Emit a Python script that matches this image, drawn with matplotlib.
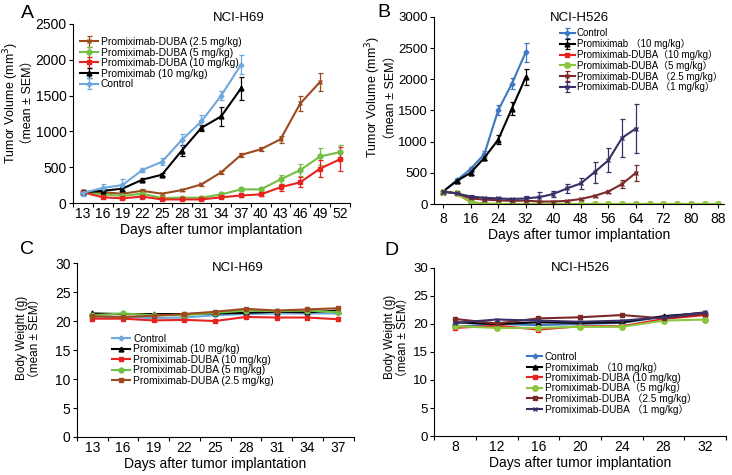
import numpy as np
import matplotlib
matplotlib.use('Agg')
from matplotlib import pyplot as plt

plt.rcParams['font.family'] = ['Liberation Sans', 'Noto Sans CJK SC', 'DejaVu Sans']
plt.rcParams['font.size'] = 10

# Panel A - NCI-H69 tumor volume
days_a = [13, 16, 19, 22, 25, 28, 31, 34, 37, 40, 43, 46, 49, 52]
a_ctrl = [140, 210, 250, 460, 575, 880, 1140, 1500, 1930]
a_ctrl_err = [40, 50, 90, 25, 50, 80, 90, 60, 130]
a_mab = [150, 170, 200, 325, 395, 730, 1050, 1210, 1600]
a_mab_err = [30, 30, 30, 20, 20, 80, 40, 130, 160]
a_d25 = [150, 150, 130, 170, 130, 180, 260, 430, 670, 750, 890, 1390, 1690]
a_d25_err = [30, 20, 20, 20, 15, 15, 20, 20, 30, 30, 50, 100, 130]
a_d5 = [150, 120, 100, 130, 70, 75, 75, 120, 190, 190, 330, 460, 650, 710]
a_d5_err = [30, 20, 20, 20, 15, 15, 15, 20, 20, 20, 60, 80, 120, 100]
a_d10 = [150, 80, 65, 90, 50, 50, 50, 80, 105, 120, 220, 290, 480, 610]
a_d10_err = [30, 15, 15, 15, 10, 10, 10, 15, 15, 20, 50, 70, 120, 170]

# Panel B - NCI-H526 tumor volume
days_b = [8, 12, 16, 20, 24, 28, 32, 36, 40, 44, 48, 52, 56, 60, 64,
          68, 72, 76, 80, 84, 88]
b_ctrl = [200, 380, 560, 800, 1500, 1930, 2430]
b_ctrl_err = [20, 30, 40, 50, 80, 90, 150]
b_mab = [200, 370, 500, 740, 1030, 1530, 2030]
b_mab_err = [20, 30, 30, 40, 70, 100, 130]
b_d10 = [200, 170, 30, 5, 0, 0, 0, 0, 0, 0, 0, 0, 0, 0, 0, 0, 0, 0, 0, 0, 0]
b_d5 = [200, 170, 30, 5, 0, 0, 0, 0, 0, 0, 0, 0, 0, 0, 0, 0, 0, 0, 0, 0, 0]
b_d25 = [200, 170, 90, 70, 60, 50, 55, 40, 40, 50, 80, 130, 200, 320, 500]
b_d25_err = [20, 20, 15, 15, 15, 10, 10, 10, 10, 10, 15, 20, 30, 60, 130]
b_d1 = [200, 170, 120, 100, 90, 80, 90, 110, 160, 250, 330, 510, 700, 1060, 1210]
b_d1_err = [20, 20, 20, 20, 20, 20, 40, 80, 50, 70, 90, 170, 190, 300, 400]

# Panel C - NCI-H69 body weight
days_c = [13, 16, 19, 22, 25, 28, 31, 34, 37]
c_ctrl = [20.8, 20.7, 20.5, 20.6, 21.0, 21.2, 21.3, 21.3, 21.3]
c_mab = [21.3, 21.2, 21.2, 21.2, 21.3, 21.4, 21.6, 21.5, 21.8]
c_d10 = [20.4, 20.4, 20.1, 20.2, 20.0, 20.7, 20.6, 20.6, 20.3]
c_d5 = [21.0, 21.3, 21.0, 21.0, 21.4, 21.8, 21.7, 21.8, 21.5]
c_d25 = [20.8, 20.7, 20.9, 21.2, 21.6, 22.1, 21.8, 22.0, 22.2]

# Panel D - NCI-H526 body weight
days_d = [8, 12, 16, 20, 24, 28, 32]
d_ctrl = [19.5, 20.0, 19.8, 20.0, 20.2, 21.3, 22.0]
d_mab = [20.3, 20.0, 20.3, 20.2, 20.3, 21.4, 22.0]
d_d10 = [19.3, 19.7, 19.0, 19.6, 19.6, 20.9, 21.6]
d_d5 = [19.6, 19.3, 19.3, 19.5, 19.5, 20.6, 20.8]
d_d25 = [20.9, 20.1, 21.0, 21.2, 21.6, 21.0, 21.8]
d_d1 = [20.2, 20.8, 20.6, 20.4, 20.6, 21.2, 22.1]

fig = plt.figure(figsize=(7.32, 4.75), dpi=100)

def style(ax, ts=10):
    for s in ['top', 'right']:
        ax.spines[s].set_visible(False)
    ax.tick_params(direction='out', length=3, width=0.8, labelsize=ts, pad=1.5)

def cat_axis(ax, labels):
    n = len(labels)
    ax.set_xlim(-0.5, n - 0.5)
    ax.set_xticks(np.arange(n + 1) - 0.5)
    ax.set_xticklabels([])
    ax.set_xticks(np.arange(n), minor=True)
    ax.set_xticklabels([str(v) for v in labels], minor=True)
    ax.tick_params(axis='x', which='minor', length=0, labelsize=10, pad=3)

def series(ax, x, y, err, color, marker, label, ms=3.5):
    ax.errorbar(x[:len(y)], y, yerr=err, color=color, marker=marker, ms=ms,
                lw=1.5, elinewidth=0.9, capsize=1.8, capthick=0.9, label=label)

def legend(ax, x, y, fs=7.4, hl=1.8, sp=0.05):
    ax.legend(loc='upper left', bbox_to_anchor=(x, y), bbox_transform=fig.transFigure,
              frameon=False, fontsize=fs, handlelength=hl, labelspacing=sp,
              borderpad=0, borderaxespad=0, handletextpad=0.25)

def labels(ax, ylab, yfs, lx, ly, title, tx, ty):
    ax.set_xlabel('Days after tumor implantation', fontsize=10, labelpad=1)
    ax.set_ylabel(ylab, fontsize=yfs, linespacing=1.12)
    ax.yaxis.set_label_coords(lx, ly)
    ax.text(tx, ty, title, transform=ax.transAxes, ha='center', va='center', fontsize=9.5)

ylab_v = 'Tumor Volume (mm$^3$)\n（mean ± SEM）'
ylab_w = 'Body Weight (g)\n（mean ± SEM）'

# A
ax = fig.add_axes([0.0997, 0.5726, 0.378, 0.377])
style(ax)
xa = np.arange(len(days_a))
series(ax, xa, a_d25, a_d25_err, '#9C4A1E', 'x', 'Promiximab-DUBA (2.5 mg/kg)', 3)
series(ax, xa, a_d5, a_d5_err, '#72BF44', 'o', 'Promiximab-DUBA (5 mg/kg)')
series(ax, xa, a_d10, a_d10_err, '#E8231F', 's', 'Promiximab-DUBA (10 mg/kg)')
series(ax, xa, a_mab, a_mab_err, '#000000', '^', 'Promiximab (10 mg/kg)')
series(ax, xa, a_ctrl, a_ctrl_err, '#6FA8DC', 'D', 'Control', 2.5)
cat_axis(ax, days_a)
ax.set_ylim(0, 2500)
ax.set_yticks(range(0, 2501, 500))
labels(ax, ylab_v, 9, -0.142, 0.56, 'NCI-H69', 0.6, 1.034)
legend(ax, 0.109, 0.922)

# B
ax = fig.add_axes([0.593, 0.5705, 0.396, 0.394])
style(ax, 9.5)
series(ax, days_b, b_ctrl, b_ctrl_err, '#3E78C0', 'D', 'Control', 2.5)
series(ax, days_b, b_mab, b_mab_err, '#000000', '^', 'Promiximab （10 mg/kg）')
series(ax, days_b, b_d10, None, '#E8231F', 's', 'Promiximab-DUBA（10 mg/kg）')
series(ax, days_b, b_d5, None, '#8CC63F', 'o', 'Promiximab-DUBA（5 mg/kg）', 4)
series(ax, days_b, b_d25, b_d25_err, '#7B2A2A', 'x', 'Promiximab-DUBA （2.5 mg/kg）', 3)
series(ax, days_b, b_d1, b_d1_err, '#3B2F68', 'x', 'Promiximab-DUBA （1 mg/kg）', 3)
ax.set_xlim(5.4, 89.6)
ax.set_xticks(range(8, 89, 8))
ax.set_ylim(0, 3000)
ax.set_yticks(range(0, 3001, 500))
ax.tick_params(axis='x', pad=3, labelsize=10)
labels(ax, ylab_v, 9, -0.13, 0.57, 'NCI-H526', 0.5, 0.995)
legend(ax, 0.765, 0.94, fs=7.0, hl=1.5, sp=0.05)

# C
ax = fig.add_axes([0.105, 0.08, 0.378, 0.3663])
style(ax)
xc = np.arange(len(days_c))
series(ax, xc, c_ctrl, None, '#6FA8DC', 'D', 'Control', 2.5)
series(ax, xc, c_mab, None, '#000000', '^', 'Promiximab (10 mg/kg)')
series(ax, xc, c_d10, None, '#E8231F', 's', 'Promiximab-DUBA (10 mg/kg)')
series(ax, xc, c_d5, None, '#72BF44', 'o', 'Promiximab-DUBA (5 mg/kg)')
series(ax, xc, c_d25, None, '#9C4A1E', 's', 'Promiximab-DUBA (2.5 mg/kg)', 3)
cat_axis(ax, days_c)
ax.set_ylim(0, 30)
ax.set_yticks(range(0, 31, 5))
labels(ax, ylab_w, 8.5, -0.13, 0.57, 'NCI-H69', 0.58, 0.971)
legend(ax, 0.153, 0.297)

# D
ax = fig.add_axes([0.593, 0.0821, 0.399, 0.3537])
style(ax, 9.5)
xd = np.arange(len(days_d))
series(ax, xd, d_ctrl, None, '#3E78C0', 'D', 'Control', 2.5)
series(ax, xd, d_mab, None, '#000000', '^', 'Promiximab （10 mg/kg）')
series(ax, xd, d_d10, None, '#E8231F', 's', 'Promiximab-DUBA (10 mg/kg)')
series(ax, xd, d_d5, None, '#8CC63F', 'o', 'Promiximab-DUBA（5 mg/kg）', 4)
series(ax, xd, d_d25, None, '#7B2A2A', 's', 'Promiximab-DUBA （2.5 mg/kg）', 3)
series(ax, xd, d_d1, None, '#3B2F68', 'x', 'Promiximab-DUBA （1 mg/kg）', 3)
cat_axis(ax, days_d)
ax.set_ylim(0, 30)
ax.set_yticks(range(0, 31, 5))
labels(ax, ylab_w, 8.5, -0.085, 0.59, 'NCI-H526', 0.5, 1.0)
legend(ax, 0.72, 0.259, fs=7.3, hl=1.5, sp=0.0)

for lbl, x, y in [('A', 0.028, 0.99), ('B', 0.515, 0.992), ('C', 0.028, 0.492), ('D', 0.525, 0.49)]:
    fig.text(x, y, lbl, fontsize=14, va='top')

fig.savefig('out.png', dpi=100)
